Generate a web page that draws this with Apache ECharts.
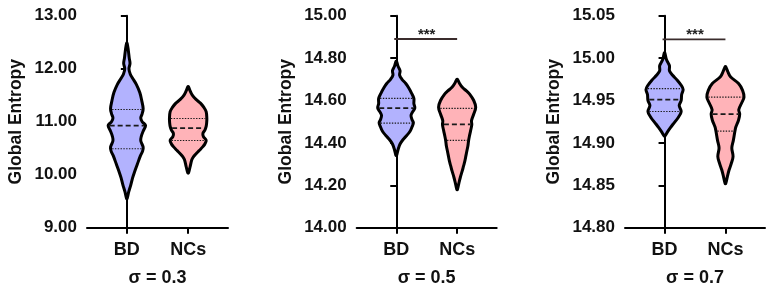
<!DOCTYPE html>
<html><head><meta charset="utf-8">
<script src="https://cdn.jsdelivr.net/npm/echarts@6/dist/echarts.min.js"></script>
<style>html,body{margin:0;padding:0;background:#fff}#c{width:772px;height:290px}</style>
</head><body><div id="c"></div>
<script>
// ---------- data ----------
const categories = ['BD', 'NCs'];
const panelTitles = ['σ = 0.3', 'σ = 0.5', 'σ = 0.7'];
const yAxisTitle = 'Global Entropy';
const yTicks03 = [9.00, 10.00, 11.00, 12.00, 13.00];
const yTicks05 = [14.00, 14.20, 14.40, 14.60, 14.80, 15.00];
const yTicks07 = [14.80, 14.85, 14.90, 14.95, 15.00, 15.05];

// violin profiles: [value, relative density]
const bd03 = [[12.48,0.3],[12.35,1.5],[12.2,2.5],[12.1,3.3],[12.0,2.2],[11.9,3.5],[11.82,6],[11.7,10],[11.55,13.5],[11.4,15.5],[11.25,17],[11.15,16],[11.07,14.5],[11.0,16],[10.93,19.5],[10.82,17],[10.72,15],[10.64,14.5],[10.52,17],[10.45,16.5],[10.35,14],[10.2,11],[10.05,8],[9.94,6],[9.8,4],[9.68,2],[9.55,0.3]];
const nc03 = [[11.66,0.3],[11.58,2],[11.5,4.2],[11.42,8],[11.35,12.5],[11.27,16],[11.19,18.3],[11.06,19],[10.98,18.8],[10.91,18.3],[10.84,17],[10.78,15],[10.72,15.5],[10.65,18.3],[10.58,17],[10.53,15],[10.46,11.5],[10.4,8.3],[10.34,5.5],[10.28,3.7],[10.15,2],[10.03,0.3]];
const bd05 = [[14.785,0.3],[14.76,2],[14.74,4],[14.72,3.5],[14.70,6],[14.68,10],[14.66,13],[14.635,16],[14.61,18.5],[14.585,18.5],[14.565,19.5],[14.545,17],[14.53,15.5],[14.51,16.5],[14.495,18],[14.475,16.5],[14.455,14.5],[14.435,11],[14.415,7],[14.395,4],[14.37,2],[14.34,0.3]];
const nc05 = [[14.70,0.3],[14.68,2.5],[14.662,5.3],[14.645,9.5],[14.63,12.8],[14.60,17],[14.568,19],[14.536,17],[14.505,14.7],[14.486,15],[14.458,13.8],[14.43,12.5],[14.41,11.7],[14.385,11],[14.363,10],[14.34,9],[14.316,8],[14.29,6.5],[14.269,5.3],[14.238,3.3],[14.21,1.8],[14.18,0.3]];
const bd07 = [[15.006,0.3],[14.998,2],[14.991,5],[14.985,5],[14.980,8],[14.974,13],[14.968,17],[14.963,19],[14.957,17.5],[14.950,17],[14.944,15],[14.937,17],[14.930,14],[14.924,10],[14.918,6],[14.913,3],[14.908,0.3]];
const nc07 = [[14.990,0.3],[14.984,2.5],[14.978,5.3],[14.970,13.8],[14.962,18],[14.954,19.5],[14.947,17],[14.939,14],[14.934,15],[14.927,13.8],[14.919,11],[14.914,10],[14.903,8.3],[14.894,6.7],[14.884,8],[14.876,6.2],[14.868,3.8],[14.860,2],[14.852,0.3]];

// quartiles: [Q1, median, Q3]
const bd03Quart = [10.49, 10.925, 11.23];
const nc03Quart = [10.645, 10.88, 11.06];
const bd05Quart = [14.493, 14.564, 14.61];
const nc05Quart = [14.412, 14.487, 14.563];
const bd07Quart = [14.937, 14.951, 14.964];
const nc07Quart = [14.914, 14.934, 14.954];

const sigY = [null, 14.89, 15.022];
const sigText = ['', '***', '***'];

// ---------- chart ----------
const panels = [
  {ticks: yTicks03, step: 1.0, bd: bd03, nc: nc03, bdQ: bd03Quart, ncQ: nc03Quart},
  {ticks: yTicks05, step: 0.2, bd: bd05, nc: nc05, bdQ: bd05Quart, ncQ: nc05Quart},
  {ticks: yTicks07, step: 0.05, bd: bd07, nc: nc07, bdQ: bd07Quart, ncQ: nc07Quart}
];
const gridLeft = [87, 356.7, 625];
const gridWidth = [141, 140, 140];
const FONT = 'Liberation Sans, Arial, sans-serif';
const BD_COLOR = '#B2B2FE';
const NC_COLOR = '#FFB3B8';
const HALF = 0.305;

function widthAt(profile, v) {
  for (let i = 0; i < profile.length - 1; i++) {
    const a = profile[i], b = profile[i + 1];
    if (v <= a[0] && v >= b[0]) {
      const t = (a[0] - v) / (a[0] - b[0]);
      return a[1] + (b[1] - a[1]) * t;
    }
  }
  return 0;
}

function violinSeries(panel, catIdx, profile, quart, color) {
  const maxD = Math.max(...profile.map(p => p[1]));
  return {
    type: 'custom', xAxisIndex: panel, yAxisIndex: panel, silent: true, clip: false, z: 3,
    data: [[catIdx, quart[1]]], encode: {x: 0, y: 1},
    renderItem(params, api) {
      const left = [], right = [];
      profile.forEach(([v, d]) => {
        const w = d / maxD * HALF;
        left.push(api.coord([catIdx - w, v]));
        right.push(api.coord([catIdx + w, v]));
      });
      const pts = left.concat(right.reverse());
      const children = [{
        type: 'polygon', shape: {points: pts, smooth: 0.35},
        style: {fill: color, stroke: '#000', lineWidth: 3, lineJoin: 'round'}
      }];
      quart.forEach((q, i) => {
        const w = widthAt(profile, q) / maxD * HALF;
        const a = api.coord([catIdx - w, q]), b = api.coord([catIdx + w, q]);
        children.push({
          type: 'line', shape: {x1: a[0] + 1.4, y1: a[1], x2: b[0] - 1.4, y2: b[1]},
          style: {stroke: '#1a1a1a', lineWidth: i === 1 ? 1.8 : 1.2, lineDash: i === 1 ? [5, 3] : [1.4, 1.4]}
        });
      });
      return {type: 'group', children};
    }
  };
}

function sigSeries(panel) {
  return {
    type: 'custom', xAxisIndex: panel, yAxisIndex: panel, silent: true, clip: false, z: 3,
    data: [[0, sigY[panel]]], encode: {x: 0, y: 1},
    renderItem(params, api) {
      const a = api.coord([0, sigY[panel]]), b = api.coord([1, sigY[panel]]);
      return {type: 'group', children: [
        {type: 'line', shape: {x1: a[0] - 2, y1: a[1], x2: b[0], y2: b[1]}, style: {stroke: '#3a2c2c', lineWidth: 1.8}},
        {type: 'text', x: (a[0] + b[0]) / 2, y: a[1] + 3,
         style: {text: sigText[panel], font: 'bold 15px ' + FONT, fill: '#222', align: 'center', verticalAlign: 'bottom'}}
      ]};
    }
  };
}

const grid = [], xAxis = [], yAxis = [], series = [];
panels.forEach((p, i) => {
  grid.push({left: gridLeft[i], width: gridWidth[i], top: 15.7, height: 212, containLabel: false, outerBoundsMode: 'none'});
  xAxis.push({
    type: 'value', gridIndex: i, min: -0.65, max: 1.65,
    name: panelTitles[i], nameLocation: 'middle', nameGap: 41,
    nameTextStyle: {fontFamily: FONT, fontWeight: 'bold', fontSize: 18, color: '#111'},
    splitLine: {show: false},
    axisLine: {show: true, onZero: false, lineStyle: {color: '#000', width: 2}},
    axisTick: {show: true, customValues: [0, 1], length: 6, lineStyle: {color: '#000', width: 2}},
    axisLabel: {customValues: [0, 1], formatter: v => categories[Math.round(v)], margin: 13,
      fontFamily: FONT, fontWeight: 'bold', fontSize: 18, color: '#111'}
  });
  yAxis.push({
    type: 'value', gridIndex: i, min: p.ticks[0], max: p.ticks[p.ticks.length - 1], interval: p.step,
    name: yAxisTitle, nameLocation: 'middle', nameGap: 62,
    nameTextStyle: {fontFamily: FONT, fontWeight: 'bold', fontSize: 17.5, color: '#111'},
    splitLine: {show: false},
    axisLine: {show: true, lineStyle: {color: '#000', width: 2}},
    axisTick: {show: true, length: 6, lineStyle: {color: '#000', width: 2}},
    axisLabel: {formatter: v => v.toFixed(2), margin: 10, fontFamily: FONT, fontWeight: 'bold', fontSize: 17, color: '#111'}
  });
  series.push(violinSeries(i, 0, p.bd, p.bdQ, BD_COLOR));
  series.push(violinSeries(i, 1, p.nc, p.ncQ, NC_COLOR));
  if (sigY[i] !== null) series.push(sigSeries(i));
});

const chart = echarts.init(document.getElementById('c'), null, {renderer: 'canvas'});
chart.setOption({animation: false, backgroundColor: '#fff', grid, xAxis, yAxis, series});
</script>
</body></html>
